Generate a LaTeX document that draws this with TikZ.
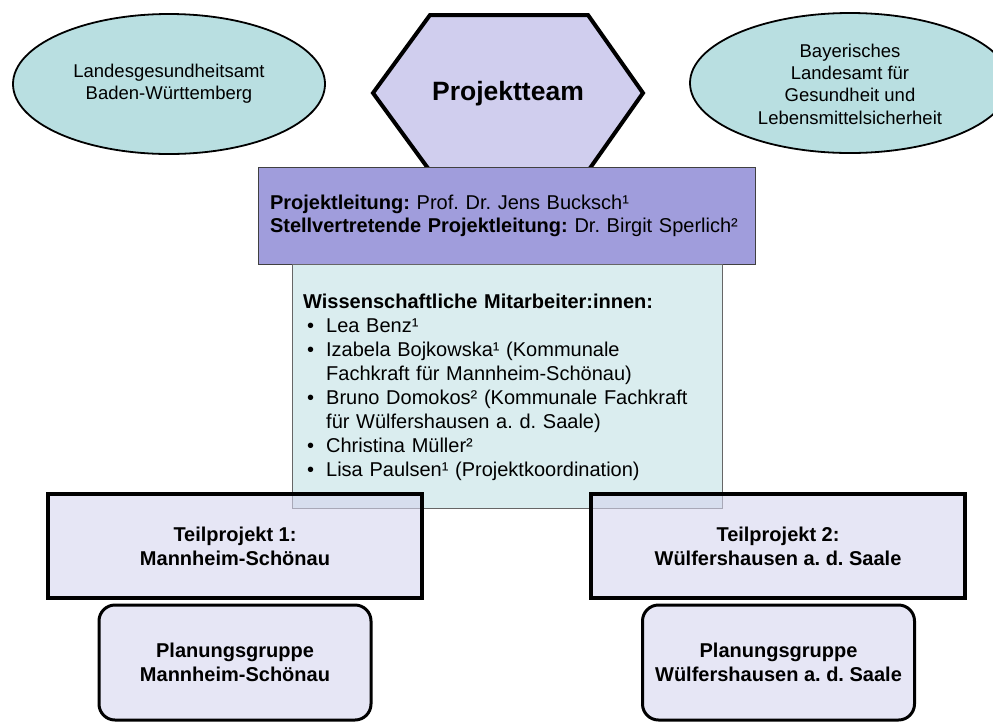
\documentclass[tikz,border=0pt]{standalone}
\usepackage{fontspec}
\setmainfont{Liberation Sans}
\frenchspacing
\usetikzlibrary{shapes.geometric}
\definecolor{amtfill}{HTML}{B9DFE1}
\definecolor{teamfill}{HTML}{D0CEEE}
\definecolor{leitfill}{HTML}{A09DDC}
\definecolor{mitfill}{HTML}{DAEDEF}
\definecolor{teilfill}{HTML}{E6E6F5}
\definecolor{teiltint}{HTML}{D5D5EE}
\newcommand{\bul}[1]{\par\noindent\hangindent=23pt\hangafter=1\makebox[23pt][l]{\hspace{4pt}\textbullet}#1}
\tikzset{
    amt/.style={ellipse, draw, line width=1.8pt, fill=amtfill, inner sep=0pt,
    	align=center, font=\fontsize{18.5}{22.3}\selectfont},
    teamhex/.style={draw, line width=4pt, fill=teamfill, line join=miter},
    leit/.style={rectangle, draw=black!75, line width=1pt, fill=leitfill,
    	minimum height=97pt, text width=473pt, inner xsep=12pt, align=left,
    	font=\fontsize{20}{23}\selectfont},
    mit/.style={rectangle, draw=black!60, line width=1pt, fill=mitfill,
    	minimum width=430pt, minimum height=244pt},
    teil/.style={rectangle, draw, line width=3.5pt, fill=teiltint, fill opacity=.6,
    	text opacity=1, minimum width=374pt, minimum height=104pt, align=center,
    	font=\fontsize{20}{24}\selectfont\bfseries},
    plan/.style={rectangle, rounded corners=16pt, draw, line width=3pt, fill=teilfill,
    	minimum width=272pt, minimum height=115pt, align=center,
    	font=\fontsize{20}{24}\selectfont\bfseries}
}

\begin{document}
\begin{tikzpicture}[x=1pt, y=-1pt]
	\clip (0,0) rectangle (993,721);
	\node[amt, minimum width=312pt, minimum height=140pt] (lga) at (169,84)
		{Landesgesundheitsamt\\Baden-Württemberg};
	\node[amt, minimum width=320pt, minimum height=140pt] (lgl) at (850,83)
		{\\[-7pt]Bayerisches\\Landesamt für\\Gesundheit und\\Lebensmittelsicherheit};
	\draw[teamhex] (373,93) -- (430,15) -- (588,15) -- (643,93) -- (588,171) -- (430,171) -- cycle;
	\node[font=\fontsize{26.5}{30}\selectfont\bfseries] (team) at (508,94) {Projektteam};
	\node[leit] (leit) at (506.5,216)
		{\textbf{Projektleitung:} Prof. Dr. Jens Bucksch¹\\
		\textbf{Stellvertretende Projektleitung:} Dr. Birgit Sperlich²};
	\node[mit] (mit) at (507,386) {};
	\node[anchor=north west, inner sep=0pt, text width=415pt,
		font=\fontsize{20}{24}\selectfont] (mitliste) at (303,293.5)
		{\raggedright\textbf{Wissenschaftliche Mitarbeiter:innen:}
		\bul{Lea Benz¹}
		\bul{Izabela Bojkowska¹ (Kommunale\newline Fachkraft für Mannheim-Schönau)}
		\bul{Bruno Domokos² (Kommunale Fachkraft\newline für Wülfershausen a. d. Saale)}
		\bul{Christina Müller²}
		\bul{Lisa Paulsen¹ (Projektkoordination)}\par};
	\node[teil] (tp1) at (235,546) {Teilprojekt 1:\\Mannheim-Schönau};
	\node[teil] (tp2) at (778,546) {Teilprojekt 2:\\Wülfershausen a. d. Saale};
	\node[plan] (pg1) at (235,662.5) {Planungsgruppe\\Mannheim-Schönau};
	\node[plan] (pg2) at (778.5,662.5) {Planungsgruppe\\Wülfershausen a. d. Saale};
\end{tikzpicture}
\end{document}
